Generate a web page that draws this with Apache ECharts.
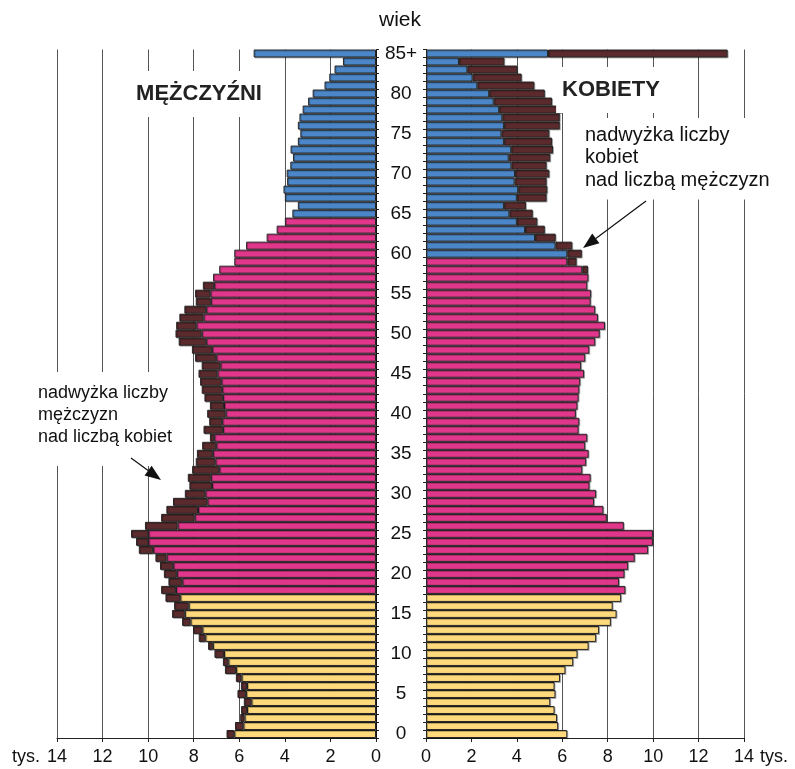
<!DOCTYPE html>
<html>
<head>
<meta charset="utf-8">
<title>Piramida wieku</title>
<script src="https://cdn.jsdelivr.net/npm/echarts@6/dist/echarts.min.js"></script>
<style>
  html, body { margin: 0; padding: 0; background: #fff; }
  #chart { width: 795px; height: 769px; }
</style>
</head>
<body>
<div id="chart"></div>
<script>
// wiek (kategorie osi Y)
const ages = ['0', '1', '2', '3', '4', '5', '6', '7', '8', '9',
  '10', '11', '12', '13', '14', '15', '16', '17', '18', '19',
  '20', '21', '22', '23', '24', '25', '26', '27', '28', '29',
  '30', '31', '32', '33', '34', '35', '36', '37', '38', '39',
  '40', '41', '42', '43', '44', '45', '46', '47', '48', '49',
  '50', '51', '52', '53', '54', '55', '56', '57', '58', '59',
  '60', '61', '62', '63', '64', '65', '66', '67', '68', '69',
  '70', '71', '72', '73', '74', '75', '76', '77', '78', '79',
  '80', '81', '82', '83', '84', '85+']

// mężczyźni, tys.
const men = [6.56, 6.19, 5.96, 5.92, 5.80, 6.08, 5.93, 6.15, 6.63, 6.72,
  7.09, 7.37, 7.78, 8.03, 8.51, 8.95, 8.86, 9.24, 9.43, 9.11,
  9.31, 9.48, 9.68, 10.41, 10.53, 10.75, 10.14, 9.43, 9.20, 8.91,
  8.39, 8.19, 8.26, 8.07, 7.91, 7.86, 7.63, 7.29, 7.57, 7.32,
  7.41, 7.29, 7.53, 7.65, 7.72, 7.79, 7.65, 7.94, 8.08, 8.66,
  8.80, 8.77, 8.63, 8.41, 7.91, 7.94, 7.60, 7.15, 6.88, 6.22,
  6.22, 5.70, 4.80, 4.36, 4.00, 3.67, 3.43, 4.00, 4.06, 3.90,
  3.92, 3.76, 3.64, 3.75, 3.43, 3.32, 3.43, 3.36, 3.22, 2.98,
  2.78, 2.26, 2.05, 1.82, 1.45, 5.37]

// kobiety, tys.
const women = [6.22, 5.82, 5.77, 5.66, 5.47, 5.70, 5.66, 5.90, 6.14, 6.48,
  6.67, 7.16, 7.49, 7.62, 8.14, 8.39, 8.22, 8.59, 8.78, 8.50,
  8.74, 8.90, 9.19, 9.78, 9.99, 9.99, 8.71, 7.96, 7.81, 7.40,
  7.49, 7.20, 7.25, 6.88, 7.05, 7.16, 7.01, 7.10, 6.72, 6.75,
  6.60, 6.67, 6.72, 6.75, 6.79, 6.96, 6.83, 7.01, 7.19, 7.45,
  7.65, 7.88, 7.57, 7.45, 7.25, 7.27, 7.10, 7.15, 7.13, 6.63,
  6.86, 6.44, 5.71, 5.23, 4.90, 4.70, 4.40, 5.31, 5.34, 5.31,
  5.43, 5.31, 5.47, 5.59, 5.55, 5.43, 5.89, 5.89, 5.94, 5.55,
  5.23, 4.77, 4.21, 4.02, 3.45, 13.28]

const FONT = 'Liberation Sans, Arial, sans-serif'
const YELLOW = '#ffd97c'
const PINK = '#e0378b'
const BLUE = '#4b87c8'
const BROWN = '#5a2a2c'

// wspólna część = mniejsza z dwóch liczebności, nadwyżka na dłuższym boku
const common = men.map((m, i) => Math.min(m, women[i]))
const menExtra = men.map((m, i) => (m - women[i] > 0.001 ? +(m - women[i]).toFixed(2) : null))
const womenExtra = women.map((w, i) => (w - men[i] > 0.001 ? +(w - men[i]).toFixed(2) : null))

let myChart = echarts.init(document.getElementById('chart'))

const barStyle = {
  borderColor: '#262626',
  borderWidth: 1,
  shadowColor: 'rgba(0,0,0,0.25)',
  shadowOffsetX: 1,
  shadowOffsetY: 1
}

function xAxisOf(grid, inverse) {
  return {
    gridIndex: grid,
    type: 'value',
    inverse: inverse,
    min: 0,
    max: 14,
    interval: 2,
    axisLine: { show: true, lineStyle: { color: '#222', width: 1 } },
    axisTick: { show: true, length: 4, lineStyle: { color: '#222' } },
    axisLabel: { fontSize: 18, color: '#111', margin: 10, fontFamily: FONT },
    splitLine: { show: true, lineStyle: { color: '#555', width: 1 } }
  }
}

// strzałka z grotem
function arrow(x1, y1, x2, y2) {
  let ang = Math.atan2(y2 - y1, x2 - x1)
  let len = 16, half = 6
  let bx = x2 - len * Math.cos(ang), by = y2 - len * Math.sin(ang)
  let px = -Math.sin(ang) * half, py = Math.cos(ang) * half
  return [
    { type: 'line', shape: { x1: x1, y1: y1, x2: bx, y2: by }, style: { stroke: '#111', lineWidth: 1.2 }, z: 100 },
    { type: 'polygon', shape: { points: [[x2, y2], [bx + px, by + py], [bx - px, by - py]] }, style: { fill: '#111' }, z: 100 }
  ]
}

let option = {
  animation: false,
  backgroundColor: '#fff',
  grid: [
    { left: 57, top: 49.5, width: 319, height: 688.5 },
    { left: 426, top: 49.5, width: 318, height: 688.5 }
  ],
  xAxis: [xAxisOf(0, true), xAxisOf(1, false)],
  yAxis: [
    {
      gridIndex: 0,
      type: 'category',
      data: ages,
      position: 'right',
      axisLine: { show: true, lineStyle: { color: '#222' } },
      axisTick: { show: true, interval: 0, length: 3, lineStyle: { color: '#222' } },
      axisLabel: {
        interval: (i) => i % 5 === 0,
        align: 'center',
        margin: 25,
        fontSize: 19,
        color: '#111',
        fontFamily: FONT
      },
      splitLine: { show: false }
    },
    {
      gridIndex: 1,
      type: 'category',
      data: ages,
      position: 'left',
      axisLine: { show: true, lineStyle: { color: '#222' } },
      axisTick: { show: true, interval: 0, length: 3, lineStyle: { color: '#222' } },
      axisLabel: { show: false },
      splitLine: { show: false }
    }
  ],
  series: [
    {
      name: 'mężczyźni',
      type: 'bar',
      xAxisIndex: 0,
      yAxisIndex: 0,
      stack: 'm',
      barCategoryGap: '0%',
      data: common,
      itemStyle: Object.assign({}, barStyle, {
        color: (p) => (p.dataIndex < 18 ? YELLOW : p.dataIndex < 65 ? PINK : BLUE)
      })
    },
    {
      name: 'nadwyżka mężczyzn',
      type: 'bar',
      xAxisIndex: 0,
      yAxisIndex: 0,
      stack: 'm',
      barCategoryGap: '0%',
      data: menExtra,
      itemStyle: Object.assign({}, barStyle, { color: BROWN })
    },
    {
      name: 'kobiety',
      type: 'bar',
      xAxisIndex: 1,
      yAxisIndex: 1,
      stack: 'k',
      barCategoryGap: '0%',
      data: common,
      itemStyle: Object.assign({}, barStyle, {
        color: (p) => (p.dataIndex < 18 ? YELLOW : p.dataIndex < 60 ? PINK : BLUE)
      })
    },
    {
      name: 'nadwyżka kobiet',
      type: 'bar',
      xAxisIndex: 1,
      yAxisIndex: 1,
      stack: 'k',
      barCategoryGap: '0%',
      data: womenExtra,
      itemStyle: Object.assign({}, barStyle, { color: BROWN })
    }
  ],
  graphic: [
    { type: 'text', x: 400, y: 20, z: 100, style: { text: 'wiek', font: '21px ' + FONT, fill: '#111', align: 'center', verticalAlign: 'middle' } },
    { type: 'text', x: 26, y: 757, z: 100, style: { text: 'tys.', font: '18px ' + FONT, fill: '#111', align: 'center', verticalAlign: 'middle' } },
    { type: 'text', x: 774, y: 757, z: 100, style: { text: 'tys.', font: '18px ' + FONT, fill: '#111', align: 'center', verticalAlign: 'middle' } },
    {
      type: 'text', x: 199, y: 94, z: 100,
      style: { text: 'MĘŻCZYŹNI', font: 'bold 22px ' + FONT, fill: '#222', align: 'center', verticalAlign: 'middle', backgroundColor: '#fff', padding: [12, 6] }
    },
    {
      type: 'text', x: 611, y: 90, z: 100,
      style: { text: 'KOBIETY', font: 'bold 22px ' + FONT, fill: '#222', align: 'center', verticalAlign: 'middle', backgroundColor: '#fff', padding: [12, 6] }
    },
    {
      type: 'text', x: 581, y: 118, z: 100,
      style: {
        text: 'nadwyżka liczby\nkobiet\nnad liczbą mężczyzn',
        font: '20px ' + FONT, lineHeight: 22.5, fill: '#111',
        backgroundColor: '#fff', padding: [6, 4, 8, 4]
      }
    },
    {
      type: 'text', x: 32, y: 372, z: 100,
      style: {
        text: 'nadwyżka liczby\nmężczyzn\nnad liczbą kobiet',
        font: '18px ' + FONT, lineHeight: 22, fill: '#111',
        backgroundColor: '#fff', padding: [10, 6, 18, 6]
      }
    }
  ].concat(arrow(131, 458, 161, 480), arrow(646, 201, 583, 248))
}

myChart.setOption(option, true)
</script>
</body>
</html>
